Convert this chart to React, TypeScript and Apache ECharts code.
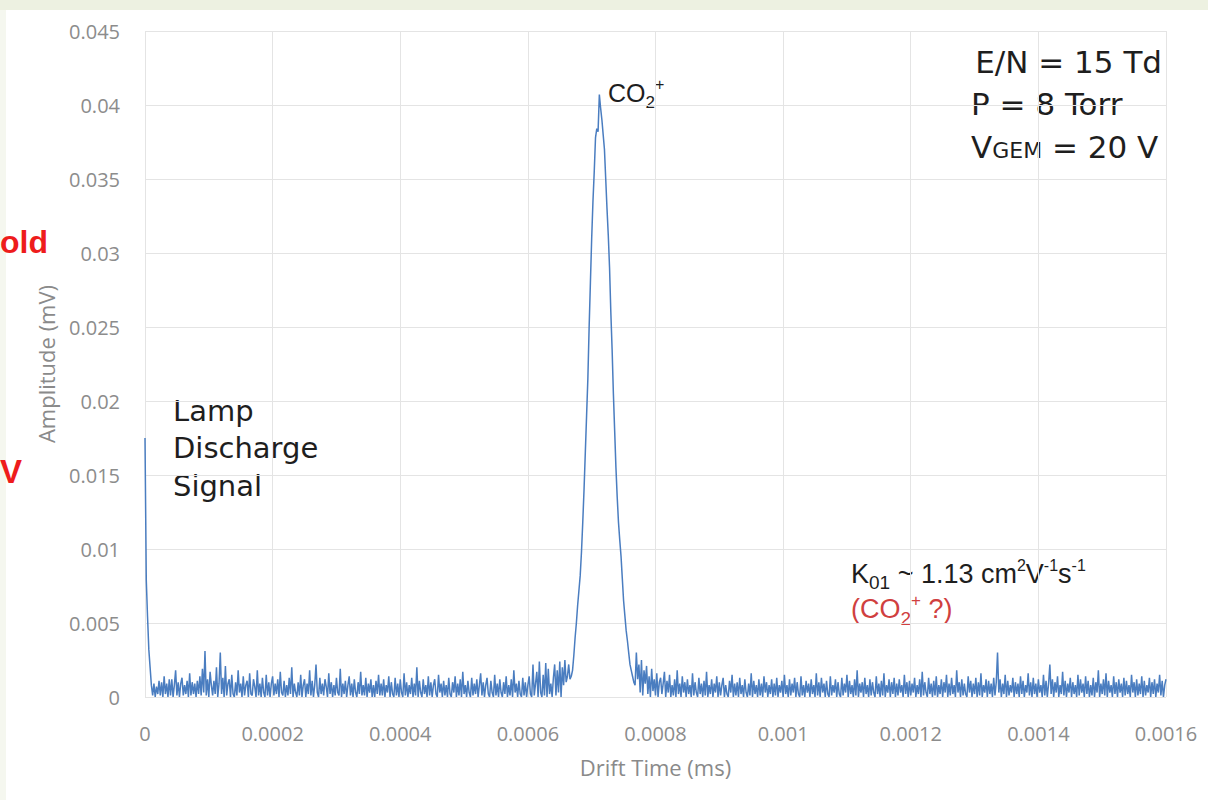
import React, { useEffect, useRef } from "react";
import * as echarts from "echarts";

// Drift time step between samples (ms)
const xStep = 0.000002;
// Amplitudes in units of 1e-4 mV
const noiseBeforePeak = [
  175, 79, 54, 32, 20, 8, 1, 9, 0, 7, 2, 11, 1, 10, 0, 14, 2, 9, 0, 12,
  1, 12, 0, 8, 18, 1, 10, 0, 9, 13, 1, 8, 2, 11, 0, 16, 1, 10, 2, 9,
  0, 11, 2, 14, 1, 19, 3, 31, 1, 12, 0, 17, 8, 1, 11, 2, 20, 0, 9, 30,
  2, 13, 0, 21, 1, 9, 12, 0, 15, 2, 0, 10, 1, 18, 3, 9, 0, 14, 1, 8,
  11, 0, 16, 2, 1, 12, 7, 0, 18, 1, 9, 0, 13, 3, 0, 15, 1, 10, 0, 9,
  14, 1, 9, 2, 12, 0, 17, 3, 1, 11, 0, 8, 1, 13, 2, 20, 0, 9, 3, 0,
  10, 1, 15, 0, 8, 12, 0, 9, 2, 18, 1, 11, 0, 8, 22, 3, 0, 13, 2, 9,
  1, 12, 7, 0, 16, 2, 10, 0, 8, 1, 13, 3, 1, 19, 0, 9, 2, 11, 0, 8,
  14, 1, 9, 0, 12, 3, 0, 10, 2, 17, 1, 8, 1, 13, 0, 9, 3, 12, 0, 8,
  0, 11, 2, 15, 1, 9, 1, 12, 0, 8, 3, 14, 0, 10, 2, 0, 13, 1, 9, 0,
  12, 3, 0, 16, 1, 10, 0, 8, 2, 13, 0, 9, 1, 20, 0, 11, 3, 0, 12, 2,
  8, 0, 14, 1, 10, 0, 8, 12, 2, 0, 15, 3, 9, 0, 11, 1, 8, 0, 13, 2,
  0, 10, 3, 14, 0, 9, 1, 12, 0, 17, 2, 8, 0, 11, 3, 0, 13, 1, 9, 2,
  12, 0, 8, 16, 1, 10, 0, 8, 13, 2, 0, 11, 3, 0, 15, 1, 9, 0, 12, 3,
  0, 10, 2, 14, 0, 8, 1, 12, 0, 18, 3, 9, 0, 11, 2, 0, 13, 1, 10, 0,
  8, 14, 2, 0, 22, 1, 9, 17, 0, 24, 3, 0, 15, 1, 23, 0, 19, 2, 9, 0,
  13, 22, 1, 18, 3, 24, 0, 20, 8, 25, 10, 14, 22,
];
const peakValues = [
  12, 14, 18, 28, 40, 50, 62, 72, 82, 98,
  118, 140, 165, 190, 215, 250, 280, 310, 335, 355,
  378, 384, 382, 407, 398, 390, 380, 370, 350, 330,
  312, 290, 260, 235, 205, 180, 155, 135, 118, 106,
  95, 80, 65, 55, 45, 38, 30, 22, 18, 14, 10,
];
const noiseAfterPeak = [
  8, 30, 12, 22, 3, 25, 1, 18, 9, 21, 2, 14, 0, 19, 4, 12, 1, 16, 0, 10,
  13, 2, 9, 17, 0, 11, 3, 15, 0, 8, 1, 12, 0, 18, 2, 9, 0, 14, 3, 10,
  0, 12, 2, 8, 0, 16, 1, 10, 3, 0, 13, 2, 9, 0, 11, 1, 17, 0, 8, 2,
  12, 0, 9, 3, 14, 0, 10, 1, 8, 13, 0, 8, 2, 0, 11, 3, 15, 0, 9, 1,
  10, 0, 13, 2, 8, 0, 12, 3, 0, 9, 1, 16, 0, 11, 2, 8, 0, 12, 1, 9,
  0, 14, 3, 10, 0, 8, 2, 12, 0, 9, 1, 13, 0, 8, 3, 11, 0, 15, 2, 8,
  0, 12, 1, 9, 3, 13, 0, 10, 2, 0, 14, 1, 8, 0, 11, 3, 9, 0, 12, 2,
  8, 0, 16, 1, 10, 0, 13, 3, 9, 0, 11, 2, 0, 14, 1, 8, 3, 12, 0, 10,
  2, 0, 13, 1, 9, 3, 15, 0, 11, 2, 8, 0, 12, 1, 18, 0, 9, 3, 10, 0,
  13, 2, 8, 0, 12, 1, 10, 3, 0, 14, 2, 9, 0, 11, 1, 16, 0, 8, 3, 12,
  0, 10, 2, 13, 0, 9, 1, 12, 3, 8, 0, 15, 2, 10, 0, 11, 1, 9, 3, 13,
  0, 8, 2, 12, 0, 17, 1, 10, 3, 0, 13, 2, 9, 0, 11, 1, 14, 0, 8, 2,
  12, 0, 10, 3, 15, 0, 9, 1, 13, 2, 8, 0, 18, 3, 10, 0, 12, 1, 9, 2,
  0, 14, 3, 11, 0, 9, 2, 13, 0, 10, 1, 16, 0, 8, 3, 12, 0, 11, 2, 9,
  0, 13, 1, 10, 30, 3, 12, 0, 9, 2, 15, 0, 11, 1, 8, 3, 13, 0, 10, 2,
  9, 0, 14, 2, 11, 0, 8, 3, 16, 1, 10, 0, 13, 2, 9, 0, 12, 3, 8, 0,
  15, 1, 11, 0, 9, 22, 2, 12, 0, 10, 3, 14, 0, 8, 2, 17, 1, 11, 0, 9,
  3, 13, 0, 10, 2, 8, 0, 15, 1, 12, 3, 9, 0, 14, 2, 11, 0, 8, 1, 13,
  0, 10, 3, 18, 0, 9, 2, 12, 1, 16, 0, 11, 3, 8, 0, 14, 2, 10, 0, 12,
  3, 9, 0, 13, 1, 11, 2, 8, 0, 15, 3, 10, 0, 12, 1, 9, 2, 14, 0, 11,
  1, 8, 3, 13, 0, 10, 2, 12, 0, 9, 3, 15, 1, 11, 0, 8, 12,
];

const xTicks = { min: 0, max: 0.0016, interval: 0.0002 };
const yTicks = { min: 0, max: 0.045, interval: 0.005 };

const axisFont = "'Open Sans', sans-serif";
const noteFont = "'DejaVu Sans', sans-serif";
const arialFont = "'Liberation Sans', Arial, sans-serif";

type Seg = { t: string; size: number; dy?: number };

export default function App() {
  const ref = useRef<HTMLDivElement>(null);
  useEffect(() => {
    if (!ref.current) return;
    const chart = echarts.init(ref.current, undefined, { renderer: "svg" });
    const all = [...noiseBeforePeak, ...peakValues, ...noiseAfterPeak];
    const data = all.map((v, i) => [i * xStep, v * 1e-4]);

    const ctx = document.createElement("canvas").getContext("2d")!;
    const measure = (t: string, size: number, font: string) => {
      ctx.font = `${size}px ${font}`;
      return ctx.measureText(t).width;
    };

    const txt = (
      x: number,
      y: number,
      text: string,
      size: number,
      fill: string,
      font: string,
      align: string = "left",
      extra: any = {}
    ) => ({
      type: "text",
      x,
      y,
      style: {
        text,
        fontSize: size,
        fontFamily: font,
        fill,
        align,
        verticalAlign: "middle",
        ...extra,
      },
    });

    const run = (x0: number, y: number, segs: Seg[], fill: string, font: string) => {
      let x = x0;
      const out: any[] = [];
      segs.forEach((s) => {
        out.push(txt(x, y + (s.dy || 0), s.t, s.size, fill, font));
        x += measure(s.t, s.size, font);
      });
      return out;
    };

    chart.setOption({
      animation: false,
      backgroundColor: "#ffffff",
      grid: { left: 145, right: 42, top: 31, bottom: 103 },
      xAxis: {
        type: "value",
        ...xTicks,
        name: "Drift Time (ms)",
        nameLocation: "middle",
        nameGap: 59,
        nameTextStyle: { color: "#8a8a8a", fontSize: 22, fontFamily: axisFont },
        axisLine: { show: false },
        axisTick: { show: false },
        axisLabel: {
          color: "#8c8c8c",
          fontSize: 20,
          fontFamily: axisFont,
          margin: 26,
          formatter: (v: number) => String(+v.toFixed(5)),
        },
        splitLine: { show: true, lineStyle: { color: "#e4e4e4", width: 1 } },
      },
      yAxis: {
        type: "value",
        ...yTicks,
        name: "Amplitude (mV)",
        nameLocation: "middle",
        nameGap: 88,
        nameTextStyle: { color: "#8a8a8a", fontSize: 22, fontFamily: axisFont },
        axisLine: { show: false },
        axisTick: { show: false },
        axisLabel: {
          color: "#8c8c8c",
          fontSize: 20,
          fontFamily: axisFont,
          margin: 25,
          formatter: (v: number) => String(+v.toFixed(4)),
        },
        splitLine: { show: true, lineStyle: { color: "#e4e4e4", width: 1 } },
      },
      series: [
        {
          type: "line",
          data,
          showSymbol: false,
          symbol: "none",
          lineStyle: { color: "#4a7dc0", width: 1.5 },
          z: 3,
        },
      ],
      graphic: [
        { type: "rect", shape: { x: 0, y: 0, width: 1208, height: 10 }, style: { fill: "#edf1e1" } },
        { type: "rect", shape: { x: 0, y: 10, width: 6, height: 790 }, style: { fill: "#f5f7ef" } },
        txt(0, 242, "old", 32, "#ee1c1c", arialFont, "left", { fontWeight: "bold" }),
        txt(0, 471, "V", 33, "#ee1c1c", arialFont, "left", { fontWeight: "bold" }),
        {
          type: "text",
          x: 173,
          y: 392,
          style: {
            text: "Lamp\nDischarge\nSignal",
            fontSize: 29,
            lineHeight: 37.5,
            fontFamily: noteFont,
            fill: "#1e1e1e",
            align: "left",
            verticalAlign: "top",
          },
        },
        // CO2+ peak label
        ...run(608, 93, [
          { t: "CO", size: 25 },
          { t: "2", size: 17, dy: 9 },
          { t: "+", size: 16, dy: -9 },
        ], "#1e1e1e", arialFont),
        // Conditions
        txt(1162, 62, "E/N = 15 Td", 31, "#1e1e1e", noteFont, "right"),
        txt(971, 104, "P = 8 Torr", 31, "#1e1e1e", noteFont),
        ...run(971, 147, [
          { t: "V", size: 31 },
          { t: "GEM", size: 22, dy: 3 },
          { t: " = 20 V", size: 31 },
        ], "#1e1e1e", noteFont),
        // Mobility
        ...run(851, 574, [
          { t: "K", size: 27 },
          { t: "01", size: 19, dy: 8 },
          { t: " ~ 1.13 cm", size: 27 },
          { t: "2", size: 16, dy: -9 },
          { t: "V", size: 27 },
          { t: "-1", size: 16, dy: -9 },
          { t: "s", size: 27 },
          { t: "-1", size: 16, dy: -9 },
        ], "#1e1e1e", arialFont),
        ...run(851, 609, [
          { t: "(CO", size: 27 },
          { t: "2", size: 19, dy: 9 },
          { t: "+", size: 17, dy: -9 },
          { t: " ?)", size: 27 },
        ], "#d0403f", arialFont),
      ],
    });
    return () => chart.dispose();
  }, []);
  return (
    <div
      ref={ref}
      style={{ position: "fixed", left: 0, top: 0, width: 1208, height: 800 }}
    />
  );
}
